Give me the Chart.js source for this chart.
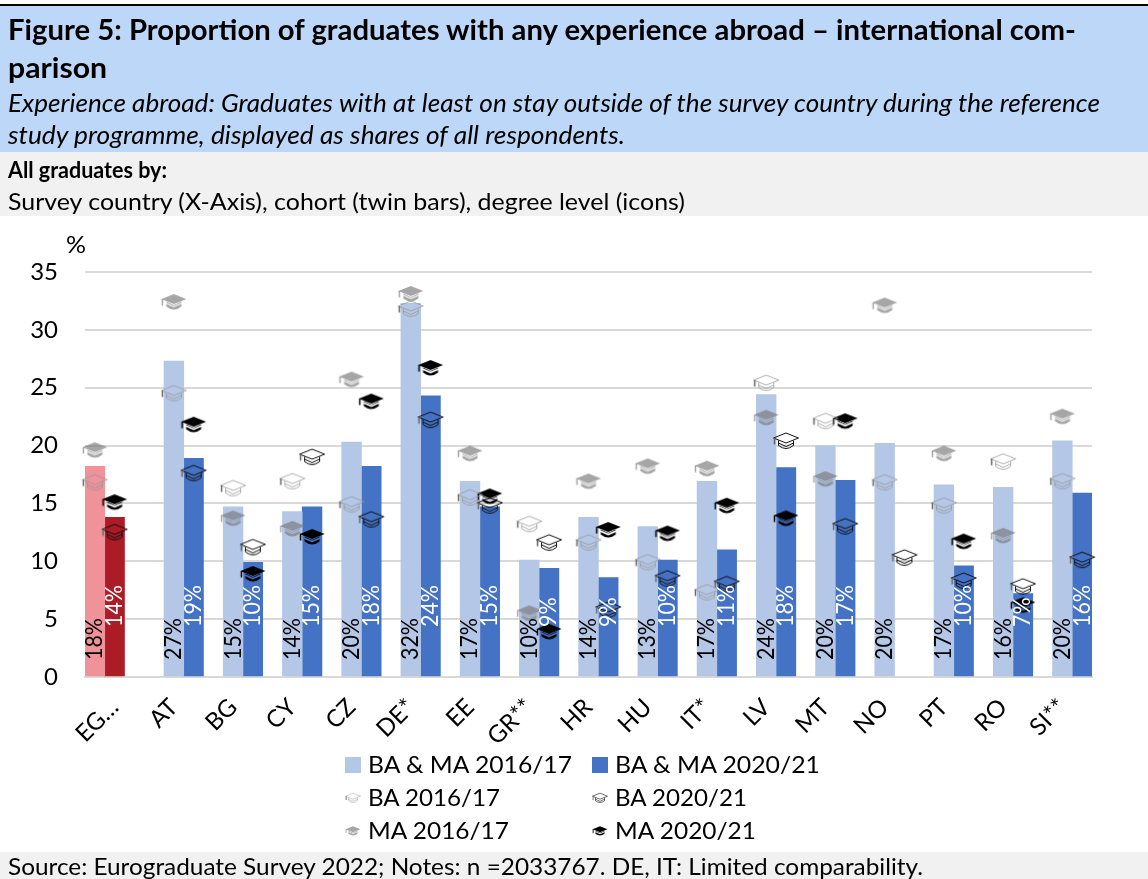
<!DOCTYPE html>
<html><head><meta charset="utf-8">
<style>
html,body{margin:0;padding:0;background:#fff;width:1148px;height:879px;overflow:hidden;font-family:Lato,sans-serif;color:#000}
.band{position:absolute;left:0;width:1148px}
#c{position:absolute;left:0;top:0;width:1148px;height:879px}
.t{position:absolute;white-space:pre;line-height:1;transform-origin:0 50%}
.sw{position:absolute}
</style>
<script src="https://cdn.jsdelivr.net/npm/chart.js@4"></script>
</head><body>
<div class="band" style="top:4px;height:2px;background:#000"></div>
<div class="band" style="top:6px;height:146px;background:#bdd7f8"></div>
<div class="band" style="top:152px;height:64px;background:#f1f1f1"></div>
<div class="band" style="top:852px;height:27px;background:#f1f1f1"></div>
<canvas id="c" width="1148" height="879"></canvas>
<div id="texts"></div>
<script>
const categories=["EG…","AT","BG","CY","CZ","DE*","EE","GR**","HR","HU","IT*","LV","MT","NO","PT","RO","SI**"];
const egypt2016=[18.2,null,null,null,null,null,null,null,null,null,null,null,null,null,null,null,null];
const egypt2020=[13.8,null,null,null,null,null,null,null,null,null,null,null,null,null,null,null,null];
const baMa2016=[null,27.3,14.7,14.3,20.3,32.3,16.9,10.1,13.8,13.0,16.9,24.4,20.0,20.2,16.6,16.4,20.4];
const baMa2020=[null,18.9,9.9,14.7,18.2,24.3,14.7,9.4,8.6,10.1,11.0,18.1,17.0,null,9.6,7.2,15.9];
const ba2016=[16.8,24.5,16.3,16.9,14.9,31.8,15.5,13.2,11.6,9.9,7.3,25.4,22.1,16.8,14.8,18.6,16.9];
const ba2020=[12.5,17.6,11.2,19.0,13.6,22.2,14.8,11.6,5.8,8.5,8.0,20.4,13.0,10.3,8.3,7.8,10.1];
const ma2016=[19.6,32.4,13.7,12.8,25.7,33.1,19.3,5.5,16.9,18.2,18.0,22.4,17.1,32.1,19.3,12.2,22.5];
const ma2020=[15.1,21.8,8.9,12.1,23.8,26.7,15.6,3.9,12.7,12.4,14.8,13.7,22.1,null,11.7,6.2,null];
const yTicks=[0,5,10,15,20,25,30,35];
const legendNames=["BA & MA 2016/17","BA & MA 2020/21","BA 2016/17","BA 2020/21","MA 2016/17","MA 2020/21"];

const FONT='Lato, sans-serif';
function hat(filled,color,s){
  const w=Math.ceil(30*s),h=Math.ceil(22*s),cv=document.createElement('canvas');
  cv.width=w;cv.height=h;
  const g=cv.getContext('2d');
  g.translate(w/2,h/2);g.scale(s,s);g.lineJoin='round';
  const diamond=()=>{g.beginPath();g.moveTo(0,-8);g.lineTo(12.5,-3);g.lineTo(0,2);g.lineTo(-12.5,-3);g.closePath();};
  g.strokeStyle=color;g.fillStyle=color;g.lineWidth=1;
  if(filled){
    g.beginPath();g.moveTo(-7.5,-0.5);g.lineTo(-7.5,4.5);g.quadraticCurveTo(0,10.5,7.5,4.5);g.lineTo(7.5,-0.5);g.lineTo(0,3);g.closePath();g.fill();
    g.globalCompositeOperation='destination-out';
    g.lineWidth=1.6;g.beginPath();g.moveTo(-8,1);g.lineTo(0,4.6);g.lineTo(8,1);g.stroke();
    g.globalCompositeOperation='source-over';
    diamond();g.fill();
    g.lineWidth=1;
  }else{
    diamond();g.stroke();
    g.beginPath();g.moveTo(-7.5,-0.5);g.lineTo(-7.5,4.5);g.quadraticCurveTo(0,10.5,7.5,4.5);g.lineTo(7.5,-0.5);g.stroke();
    g.beginPath();g.moveTo(-7.5,2);g.lineTo(0,5.5);g.lineTo(7.5,2);g.stroke();
  }
  g.lineWidth=1.5;g.strokeStyle=filled?color:'#666';
  g.beginPath();g.moveTo(-11.5,-3);g.lineTo(-11.5,3.5);g.stroke();
  return cv;
}
const styles={ba16:[false,'rgba(150,150,150,.75)'],ba20:[false,'#111'],ma16:[true,'rgba(120,120,120,.66)'],ma20:[true,'#000']};
const cap=(k,s=1)=>hat(styles[k][0],styles[k][1],s);

const SLOT=1/3;
const icon=(label,data,slot,k)=>({type:'line',label,data,slot,showLine:false,
  pointStyle:cap(k),pointRadius:13,pointHoverRadius:13,order:0});
const bar=(label,data,stack,color,dark)=>({type:'bar',label,data,stack,dark,backgroundColor:color,borderWidth:0,
  categoryPercentage:1,barPercentage:1,order:1});

// 2016/17 icons sit over the light bar, 2020/21 over the dark bar; the first category is one slot further left.
const iconSlots={id:'iconSlots',afterDatasetsUpdate(ch){
  const w=ch.scales.x.width/categories.length;
  ch.data.datasets.forEach((ds,di)=>{
    if(ds.type!=='line')return;
    ch.getDatasetMeta(di).data.forEach((el,i)=>{el.x+=((i===0?ds.slot-SLOT:ds.slot))*w;});
  });
}};
const labelPlugin={id:'barLabels',afterDatasetsDraw(ch){
  const c=ch.ctx;
  ch.data.datasets.forEach((ds,di)=>{
    if(ds.type!=='bar')return;
    ch.getDatasetMeta(di).data.forEach((el,i)=>{
      const v=ds.data[i];if(v==null)return;
      c.save();
      c.translate(el.x,ch.chartArea.bottom-(ds.dark?50:17));
      c.rotate(-Math.PI/2);
      c.scale(.93,1);
      c.font='23px '+FONT;c.fillStyle=ds.dark?'#fff':'#000';
      c.textAlign='left';c.textBaseline='middle';
      c.fillText(Math.round(v)+'%',0,0);
      c.restore();
    });
  });
}};

new Chart(document.getElementById('c'),{
  data:{labels:categories,datasets:[
    bar('Egypt 2016',egypt2016,'a','#ef9299',false),
    bar('Egypt 2020',egypt2020,'b','#ab1c26',true),
    bar(legendNames[0],baMa2016,'b','#b4c7e7',false),
    bar(legendNames[1],baMa2020,'c','#4472c4',true),
    icon(legendNames[2],ba2016,0,'ba16'),
    icon(legendNames[3],ba2020,SLOT,'ba20'),
    icon(legendNames[4],ma2016,0,'ma16'),
    icon(legendNames[5],ma2020,SLOT,'ma20')
  ]},
  options:{
    responsive:false,animation:false,
    layout:{padding:{top:272,right:56,left:0,bottom:0}},
    plugins:{legend:{display:false},tooltip:{enabled:false},title:{display:false}},
    scales:{
      x:{type:'category',offset:true,grid:{display:false},border:{color:'#d9d9d9',width:2},
        afterFit(s){s.height=202;},
        ticks:{autoSkip:false,minRotation:45,maxRotation:45,padding:8,color:'#000',font:{family:FONT,size:24}}},
      y:{min:0,max:35,
        afterFit(s){s.width=85;},
        afterBuildTicks(s){s.ticks=yTicks.map(value=>({value}));},
        grid:{color:'#d9d9d9',lineWidth:2,drawTicks:false},border:{display:false},
        ticks:{padding:27,color:'#000',font:{family:FONT,size:24}}}
    }
  },
  plugins:[iconSlots,labelPlugin]
});

const host=document.getElementById('texts');
function put(str,x,base,size,right,extra){
  const d=document.createElement('div');d.className='t';d.textContent=str;
  d.style.cssText=`left:${x}px;top:${base-0.887*size}px;font-size:${size}px;${extra||''}`;
  host.appendChild(d);
  if(right!=null){d.style.transform=`scaleX(${(right-x)/d.getBoundingClientRect().width})`;}
}
put("Figure 5: Proportion of graduates with any experience abroad – international com-",8,40,28,1076,'font-weight:700');
put("parison",8,78,28,107,'font-weight:700');
put("Experience abroad: Graduates with at least on stay outside of the survey country during the reference",8,113,24.5,1100,'font-style:italic');
put("study programme, displayed as shares of all respondents.",8,145,24.5,625,'font-style:italic');
put("All graduates by:",8,178,23,167,'font-weight:700');
put("Survey country (X-Axis), cohort (twin bars), degree level (icons)",8,210,23,685);
put("Source: Eurograduate Survey 2022; Notes: n =2033767. DE, IT: Limited comparability.",8,875,23,923);
put("%",66,253,24,86);

const rows=[773,806,839], rowsC=[765,798,831];
const cols=[{sw:345,tx:368},{sw:592,tx:615}];
const rights=[[572,820],[500,747],[509,756]];
const swatches=[['#b4c7e7','#4472c4'],['ba16','ba20'],['ma16','ma20']];
rows.forEach((b,r)=>cols.forEach((c,k)=>{
  put(legendNames[r*2+k],c.tx,b,24,rights[r][k]);
  const s=swatches[r][k];
  if(r===0){
    const d=document.createElement('div');d.className='sw';
    d.style.cssText=`left:${c.sw}px;top:${rowsC[r]-8}px;width:16px;height:16px;background:${s}`;
    host.appendChild(d);
  }else{
    const cv=cap(s,0.6);cv.className='sw';
    cv.style.left=(c.sw+8-cv.width/2)+'px';cv.style.top=(rowsC[r]-cv.height/2)+'px';
    host.appendChild(cv);
  }
}));
</script>
</body></html>
